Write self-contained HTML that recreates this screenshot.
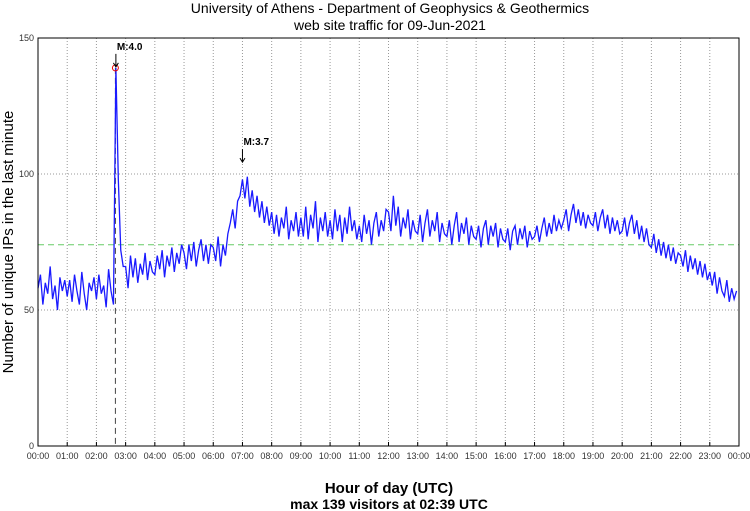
<!DOCTYPE html>
<html><head><meta charset="utf-8"><style>
body{margin:0;background:#fff;}
svg{display:block;font-family:"Liberation Sans",sans-serif;}
</style></head><body>
<svg width="750" height="511">
<text x="390" y="13" text-anchor="middle" font-size="14">University of Athens - Department of Geophysics &amp; Geothermics</text>
<text x="390" y="30" text-anchor="middle" font-size="14">web site traffic for 09-Jun-2021</text>
<g id="grid"></g>
<g id="series"></g>
<rect x="38" y="38" width="701" height="408" fill="none" stroke="#000"/>
<g id="axes"></g>
<text transform="translate(13,242) rotate(-90)" text-anchor="middle" font-size="15">Number of unique IPs in the last minute</text>
<text x="389" y="493" text-anchor="middle" font-size="15" font-weight="bold">Hour of day (UTC)</text>
<text x="389" y="509" text-anchor="middle" font-size="14" font-weight="bold">max 139 visitors at 02:39 UTC</text>
</svg>
<script>
const values=[
58,63,52,60,56,66,54,59,50,62,57,61,
55,61,53,63,57,52,64,56,50,60,57,62,
54,63,56,59,51,65,57,52,139,98,72,66,
66,58,70,62,69,60,67,63,71,61,68,64,
63,70,65,72,62,70,66,73,64,71,67,74,
71,65,74,68,75,66,72,76,68,74,67,74,
73,68,77,66,74,70,78,82,87,80,90,92,
98,91,99,88,94,86,92,84,90,82,88,81,
86,78,85,77,84,80,88,76,83,79,86,77,
84,77,88,76,85,80,90,75,84,79,86,77,
83,76,87,79,85,75,84,78,88,79,83,76,
81,75,85,78,83,74,82,86,77,83,79,87,
86,79,92,81,88,77,84,80,87,76,83,79,
78,85,75,82,87,77,83,79,86,75,82,78,
77,83,74,81,86,75,82,78,84,74,81,77,
76,81,73,80,83,74,81,77,82,73,80,76,
75,80,72,79,81,74,80,76,81,73,79,76,
77,81,75,80,84,77,82,78,85,79,83,80,
83,87,79,85,89,82,87,81,86,80,85,82,
81,86,79,84,87,80,85,78,84,79,83,78,
79,84,77,82,85,78,83,76,81,75,80,74,
73,78,71,76,70,75,69,74,68,73,67,71,
70,66,72,64,70,65,69,63,68,62,67,61,
64,59,64,56,62,57,55,61,53,58,54,57];
const yTicks=[0,50,100,150];
const xTickLabels=["00:00","01:00","02:00","03:00","04:00","05:00","06:00","07:00","08:00","09:00","10:00","11:00","12:00","13:00","14:00","15:00","16:00","17:00","18:00","19:00","20:00","21:00","22:00","23:00","00:00"];
const meanValue=74;
const peakMinute=159, peakValue=139;
const quakes=[{minute:160,label:"M:4.0",value:139},{minute:420,label:"M:3.7",value:104}];
const stepMinutes=5;

const NS="http://www.w3.org/2000/svg";
const X0=38,X1=739,Y0=446,Y1=38;
const xs=m=>X0+(X1-X0)*m/1440;
const ys=v=>Y0-(Y0-Y1)*v/150;
function mk(t,a,parent){const e=document.createElementNS(NS,t);for(const k in a)e.setAttribute(k,a[k]);parent.appendChild(e);return e;}
const grid=document.getElementById('grid'),axes=document.getElementById('axes'),ser=document.getElementById('series');
xTickLabels.forEach((l,i)=>{
  const x=xs(i*60);
  if(i>0&&i<24){const g=mk('line',{x1:x,x2:x,y1:Y1,y2:Y0,stroke:'#999','stroke-dasharray':'1,2'},grid);
  
  }
  const t=mk('text',{x:x,y:459,'text-anchor':'middle','font-size':'9',fill:'#333'},axes);t.textContent=l;
  
  
  const tk=mk('line',{x1:x,x2:x,y1:Y0,y2:Y0-4,stroke:'#000'},axes);
  
  
});
yTicks.forEach(v=>{
  const y=ys(v);
  if(v>0&&v<150){const g=mk('line',{x1:X0,x2:X1,y1:y,y2:y,stroke:'#999','stroke-dasharray':'1,2'},grid);
  
  }
  const t=mk('text',{x:34,y:y+3,'text-anchor':'end','font-size':'9',fill:'#333'},axes);t.textContent=v;
  
  
});
const mean=mk('line',{x1:X0,x2:X1,y1:ys(meanValue),y2:ys(meanValue),stroke:'#6c6','stroke-dasharray':'6,4'},grid);


const vl=mk('line',{x1:xs(peakMinute),x2:xs(peakMinute),y1:ys(peakValue),y2:Y0,stroke:'#444','stroke-dasharray':'6,4'},grid);


const pts=values.map((v,i)=>xs(i*stepMinutes)+','+ys(v)).join(' ');
const pl=mk('polyline',{points:pts,fill:'none',stroke:'#1a1aff','stroke-width':'1.3'},ser);


const c=mk('circle',{cx:xs(peakMinute),cy:ys(peakValue),r:3,fill:'none',stroke:'#e00'},ser);


quakes.forEach(q=>{
  const x=xs(q.minute),y=ys(q.value);
  const t=mk('text',{x:x+1,y:y-18,'font-size':'10','font-weight':'bold'},ser);t.textContent=q.label;
  
  
  const a=mk('path',{d:`M${x},${y-14}V${y-2}M${x-2.5},${y-5}L${x},${y-1}L${x+2.5},${y-5}`,stroke:'#000',fill:'none'},ser);
  
  
});
</script>
</body></html>
